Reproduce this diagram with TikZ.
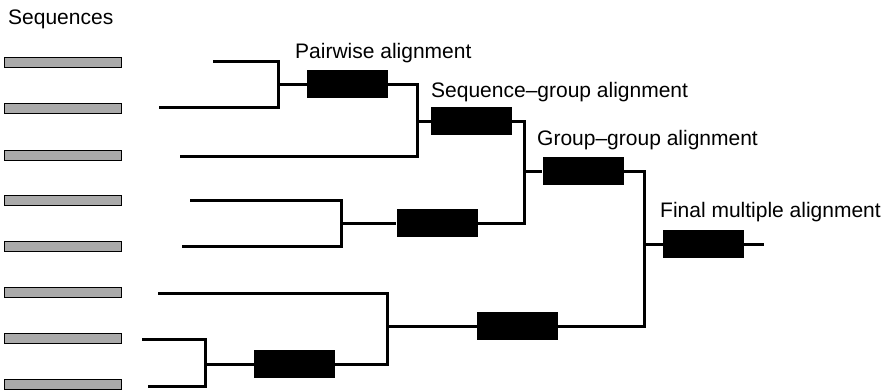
\documentclass[tikz,border=0pt]{standalone}
\usepackage{fontspec}
\setmainfont{Liberation Sans}
\begin{document}
\begin{tikzpicture}[x=1pt,y=-1pt,
  seqbar/.style={draw=black,line width=1pt,fill={rgb,255:red,170;green,170;blue,170},minimum width=117pt,minimum height=10pt,inner sep=0pt},
  alnbox/.style={fill=black,minimum width=81pt,minimum height=28pt,inner sep=0pt},
  tree/.style={line width=3pt},
  lbl/.style={anchor=base west,inner sep=0pt,font=\fontsize{21}{24}\selectfont}]
\useasboundingbox (0,0) rectangle (892,391);
% sequences
\node[lbl] (seqlbl) at (8,24) {Sequences};
\foreach \i/\y in {1/62,2/108,3/155,4/200,5/246,6/292,7/338,8/384}
  \node[seqbar] (s\i) at (62.5,\y) {};
% boxes
\node[alnbox] (b1) at (347.5,84) {};
\node[alnbox] (b2) at (471.5,121) {};
\node[alnbox] (b4) at (437,223) {};
\node[alnbox] (b3) at (583,171) {};
\node[alnbox] (b5) at (517.5,326) {};
\node[alnbox] (b7) at (294.5,364) {};
\node[alnbox] (b6) at (703.5,244) {};
% labels
\node[lbl] (l1) at (295,58) {Pairwise alignment};
\node[lbl] (l2) at (431,97) {Sequence\textendash group alignment};
\node[lbl] (l3) at (537,145) {Group\textendash group alignment};
\node[lbl] (l4) at (660,217) {Final multiple alignment};
% tree coordinates
\coordinate (a1) at (213,61);
\coordinate (a2) at (159,107);
\coordinate (jA) at (278,84);
\coordinate (a3) at (180,156);
\coordinate (jB) at (417,121);
\coordinate (a4) at (190,200);
\coordinate (a5) at (182,246);
\coordinate (jD) at (341,223);
\coordinate (jC) at (524,171);
\coordinate (a6) at (158,293);
\coordinate (jE) at (387,326);
\coordinate (a7) at (142,339);
\coordinate (a8) at (148,386);
\coordinate (jG) at (205,364);
\coordinate (jF) at (644,244);
\coordinate (fin) at (764,244);
% tree
\draw[tree] (a1) -| (jA) |- (a2);
\draw[tree] (jA) -- (b1.west);
\draw[tree] (b1.east) -| (jB) |- (a3);
\draw[tree] (jB) -- (b2.west);
\draw[tree] (a4) -| (jD) |- (a5);
\draw[tree] (jD) -- (b4.west);
\draw[tree] (b2.east) -| (jC) |- (b4.east);
\draw[tree] (jC) -- (b3.west);
\draw[tree] (a7) -| (jG) |- (a8);
\draw[tree] (jG) -- (b7.west);
\draw[tree] (a6) -| (jE) |- (b7.east);
\draw[tree] (jE) -- (b5.west);
\draw[tree] (b3.east) -| (jF) |- (b5.east);
\draw[tree] (jF) -- (b6.west);
\draw[tree] (b6.east) -- (fin);
\end{tikzpicture}
\end{document}
